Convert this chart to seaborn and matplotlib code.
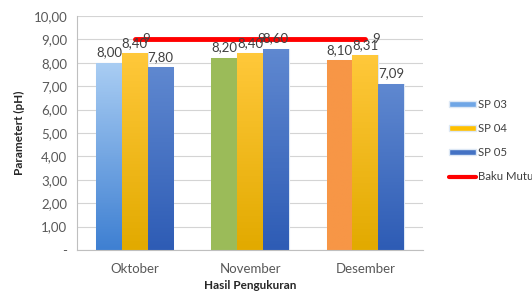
import numpy as np
import pandas as pd
import matplotlib
matplotlib.use("Agg")
import matplotlib.pyplot as plt
import seaborn as sns
from matplotlib.colors import LinearSegmentedColormap
from matplotlib.patches import Patch
from matplotlib.lines import Line2D

# --- data ---
months = ["Oktober", "November", "Desember"]
series = ["SP 03", "SP 04", "SP 05"]
sp03 = [8.00, 8.20, 8.10]
sp04 = [8.40, 8.40, 8.31]
sp05 = [7.80, 8.60, 7.09]
baku_mutu = [9, 9, 9]
yticks = [0, 1, 2, 3, 4, 5, 6, 7, 8, 9, 10]

# gradient colours (top, bottom) for each bar
sp03_cols = [("#A9CDF3", "#3F80D2"), ("#9BBB59", "#9BBB59"), ("#F79646", "#F79646")]
sp04_col = ("#FFC83A", "#E2AA00")
sp05_col = ("#5F88D0", "#2E5CB5")

GRAY = "#595959"

df = pd.DataFrame({
    "month": months * 3,
    "series": [s for s in series for _ in months],
    "value": sp03 + sp04 + sp05,
})

sns.set_style("white")
plt.rcParams["font.family"] = ["Lato", "DejaVu Sans"]

fig = plt.figure(figsize=(5.32, 2.95), dpi=100)
ax = fig.add_axes([0.145, 0.1525, 0.65, 0.7935])

sns.barplot(data=df, x="month", y="value", hue="series", order=months,
            hue_order=series, width=0.67, gap=0, legend=False, ax=ax,
            palette=["#9DC3E6", "#FFC000", "#4472C4"], edgecolor="#DDE8F5",
            linewidth=0.8, zorder=2)

ax.set_ylim(0, 10)
xlim = ax.get_xlim()


def grad_fill(bar, top, bottom):
    x0, y0 = bar.get_x(), bar.get_y()
    w, h = bar.get_width(), bar.get_height()
    cmap = LinearSegmentedColormap.from_list("g", [bottom, top])
    img = ax.imshow(np.linspace(0, 1, 64).reshape(-1, 1), cmap=cmap,
                    extent=(x0, x0 + w, y0, y0 + h), origin="lower",
                    aspect="auto", zorder=2.5)
    img.set_clip_path(bar)


for i, bars in enumerate(ax.containers):
    for j, bar in enumerate(bars):
        if i == 0:
            top, bottom = sp03_cols[j]
        elif i == 1:
            top, bottom = sp04_col
        else:
            top, bottom = sp05_col
        grad_fill(bar, top, bottom)
        ax.text(bar.get_x() + bar.get_width() / 2, bar.get_height() + 0.2,
                f"{bar.get_height():.2f}".replace(".", ","), ha="center",
                va="bottom", fontsize=9.5, color="#404040", zorder=5)

# baku mutu line
sns.lineplot(x=[0, 1, 2], y=baku_mutu, color="#FF0000", linewidth=3.5,
             ax=ax, zorder=4, legend=False)
for k, v in enumerate(baku_mutu):
    ax.text(k + 0.095, v, f"{v}", ha="center", va="center",
            fontsize=9.5, color="#404040", zorder=5)

ax.set_xlim(xlim)
ax.set_yticks(yticks)
ax.set_yticklabels(["-" if t == 0 else f"{t:.2f}".replace(".", ",") for t in yticks],
                   fontsize=9.5, color=GRAY)
ax.tick_params(axis="y", length=4, color="#BFBFBF", width=0.8, pad=3)
ax.tick_params(axis="x", length=0, labelsize=9.5, labelcolor=GRAY, pad=9)
ax.grid(axis="y", color="#D4D4D4", linewidth=0.8, zorder=0)
ax.set_axisbelow(True)
for s in ["top", "right"]:
    ax.spines[s].set_visible(False)
ax.spines["left"].set_color("#BFBFBF")
ax.spines["bottom"].set_color("#BFBFBF")

ax.set_xlabel("Hasil Pengukuran", fontsize=8.5, fontweight="bold", color="#262626", labelpad=4)
ax.set_ylabel("Parametert (pH)", fontsize=8.5, fontweight="bold", color="#262626", labelpad=6)

handles = [
    Patch(facecolor="#6FA6E6", edgecolor="#DDE8F5"),
    Patch(facecolor="#FFC000", edgecolor="#DDE8F5"),
    Patch(facecolor="#4472C4", edgecolor="#DDE8F5"),
    Line2D([0], [0], color="#FF0000", linewidth=3),
]
fig.legend(handles, ["SP 03", "SP 04", "SP 05", "Baku Mutu"], loc="upper left",
           bbox_to_anchor=(0.835, 0.68), frameon=False, fontsize=8.2,
           labelcolor="#404040", handlelength=2.4, handleheight=0.45,
           handletextpad=0.15, labelspacing=1.15, borderaxespad=0)

fig.savefig("out.png", dpi=100)
